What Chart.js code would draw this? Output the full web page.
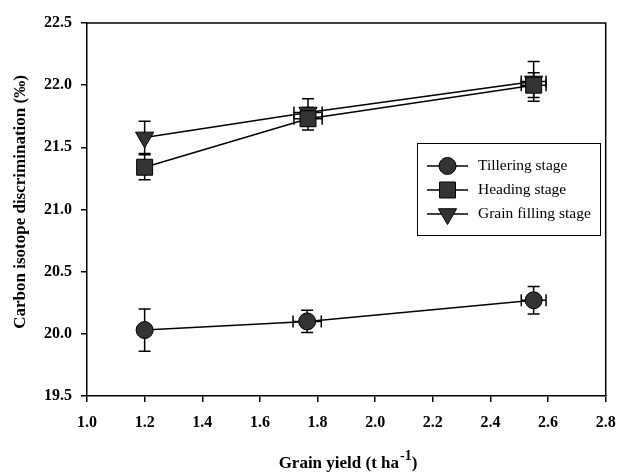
<!DOCTYPE html>
<html>
<head>
<meta charset="utf-8">
<script src="https://cdn.jsdelivr.net/npm/chart.js@4/dist/chart.umd.min.js"></script>
<style>
html,body{margin:0;padding:0;background:#fff;}
#wrap{width:618px;height:473px;position:relative;}
</style>
</head>
<body>
<div id="wrap"><canvas id="c" width="618" height="473"></canvas></div>
<script>
// ---- data ----
const seriesNames = ['Tillering stage', 'Heading stage', 'Grain filling stage'];
const tilleringX = [1.2, 1.764, 2.55];
const tilleringY = [20.03, 20.10, 20.27];
const tilleringYErr = [0.17, 0.09, 0.11];
const tilleringXErr = [0, 0.049, 0.043];
const headingX = [1.2, 1.767, 2.55];
const headingY = [21.34, 21.73, 22.00];
const headingYErr = [0.10, 0.09, 0.10];
const headingXErr = [0, 0.049, 0.043];
const grainX = [1.2, 1.767, 2.55];
const grainY = [21.58, 21.78, 22.03];
const grainYErr = [0.13, 0.11, 0.16];
const grainXErr = [0, 0.049, 0.043];
const xTickMin = 1.0, xTickMax = 2.8, xTickStep = 0.2;
const yTickMin = 19.5, yTickMax = 22.5, yTickStep = 0.5;
const xTitle = 'Grain yield (t ha';
const xTitleSup = '-1';
const xTitleEnd = ')';
const yTitle = 'Carbon isotope discrimination (‰)';

const FONT = '"Liberation Serif", "Times New Roman", serif';

function pts(xs, ys, ye, xe) {
  return xs.map((x, i) => ({x: x, y: ys[i], yErr: ye[i], xErr: xe[i]}));
}

const errorBars = {
  id: 'errorBars',
  beforeDatasetsDraw(chart) {
    const ctx = chart.ctx, xs = chart.scales.x, ys = chart.scales.y;
    ctx.save();
    ctx.strokeStyle = '#000';
    ctx.lineWidth = 1.5;
    const cap = 6;
    chart.data.datasets.forEach(ds => {
      ds.data.forEach(p => {
        const px = xs.getPixelForValue(p.x), py = ys.getPixelForValue(p.y);
        if (p.yErr) {
          const t = ys.getPixelForValue(p.y + p.yErr), b = ys.getPixelForValue(p.y - p.yErr);
          ctx.beginPath();
          ctx.moveTo(px, t); ctx.lineTo(px, b);
          ctx.moveTo(px - cap, t); ctx.lineTo(px + cap, t);
          ctx.moveTo(px - cap, b); ctx.lineTo(px + cap, b);
          ctx.stroke();
        }
        if (p.xErr) {
          const l = xs.getPixelForValue(p.x - p.xErr), r = xs.getPixelForValue(p.x + p.xErr);
          ctx.beginPath();
          ctx.moveTo(l, py); ctx.lineTo(r, py);
          ctx.moveTo(l, py - cap); ctx.lineTo(l, py + cap);
          ctx.moveTo(r, py - cap); ctx.lineTo(r, py + cap);
          ctx.stroke();
        }
      });
    });
    ctx.restore();
  }
};

const decor = {
  id: 'decor',
  afterDraw(chart) {
    const ctx = chart.ctx, a = chart.chartArea;
    ctx.save();
    // frame top/right
    ctx.strokeStyle = '#000';
    ctx.lineWidth = 1.5;
    ctx.beginPath();
    ctx.moveTo(a.left, a.top); ctx.lineTo(a.right, a.top); ctx.lineTo(a.right, a.bottom);
    ctx.stroke();
    // y title
    ctx.fillStyle = '#000';
    ctx.font = 'bold 17px ' + FONT;
    ctx.textAlign = 'center';
    ctx.textBaseline = 'middle';
    ctx.save();
    ctx.translate(21, 202);
    ctx.rotate(-Math.PI / 2);
    ctx.fillText(yTitle, 0, 0);
    ctx.restore();
    // x title with superscript
    ctx.textBaseline = 'alphabetic';
    ctx.textAlign = 'left';
    const mainFont = 'bold 17px ' + FONT, supFont = 'bold 14px ' + FONT;
    ctx.font = mainFont; const w1 = ctx.measureText(xTitle).width; const w3 = ctx.measureText(xTitleEnd).width;
    ctx.font = supFont; const w2 = ctx.measureText(xTitleSup).width;
    const total = w1 + w2 + w3 + 1;
    let x0 = 348 - total / 2;
    const base = 468;
    ctx.font = mainFont; ctx.fillText(xTitle, x0, base);
    ctx.font = supFont; ctx.fillText(xTitleSup, x0 + w1 + 1, base - 8);
    ctx.font = mainFont; ctx.fillText(xTitleEnd, x0 + w1 + w2 + 1, base);
    // legend
    const lx = 417, ly = 143, lw = 183, lh = 92;
    ctx.fillStyle = '#fff';
    ctx.fillRect(lx, ly, lw, lh);
    ctx.strokeStyle = '#000';
    ctx.lineWidth = 1;
    ctx.strokeRect(lx + 0.5, ly + 0.5, lw, lh);
    const rowY = [166, 190, 214];
    chart.data.datasets.forEach((ds, i) => {
      const y = rowY[i];
      ctx.strokeStyle = '#000';
      ctx.lineWidth = 1.5;
      ctx.beginPath(); ctx.moveTo(427, y); ctx.lineTo(468, y); ctx.stroke();
      ctx.fillStyle = ds.pointBackgroundColor;
      ctx.strokeStyle = ds.pointBorderColor;
      ctx.lineWidth = ds.pointBorderWidth;
      Chart.helpers.drawPoint(ctx, {pointStyle: ds.pointStyle, radius: ds.pointRadius, rotation: ds.pointRotation || 0, borderWidth: ds.pointBorderWidth}, 447.5, y);
      ctx.fillStyle = '#000';
      ctx.font = '15.5px ' + FONT;
      ctx.textBaseline = 'middle';
      ctx.textAlign = 'left';
      ctx.fillText(ds.label, 478, y);
    });
    ctx.restore();
  }
};

function ds(label, data, style, radius, rotation) {
  return {
    label: label, data: data,
    borderColor: '#000', borderWidth: 1.5,
    pointStyle: style, pointRadius: radius, pointHoverRadius: radius,
    pointRotation: rotation || 0,
    pointBackgroundColor: '#333333', pointBorderColor: '#000', pointBorderWidth: 1,
    showLine: true, tension: 0, fill: false
  };
}

new Chart(document.getElementById('c'), {
  type: 'scatter',
  data: {
    datasets: [
      ds(seriesNames[0], pts(tilleringX, tilleringY, tilleringYErr, tilleringXErr), 'circle', 8.5),
      ds(seriesNames[1], pts(headingX, headingY, headingYErr, headingXErr), 'rect', 11.3),
      ds(seriesNames[2], pts(grainX, grainY, grainYErr, grainXErr), 'triangle', 10.5, 180)
    ]
  },
  options: {
    responsive: false,
    animation: false,
    events: [],
    layout: {padding: {top: 23, right: 12, left: 0, bottom: 0}},
    plugins: {legend: {display: false}, tooltip: {enabled: false}},
    scales: {
      x: {
        type: 'linear', min: xTickMin, max: xTickMax,
        afterFit(s) { s.height = 77; s.paddingLeft = 0; s.paddingRight = 0; },
        border: {display: true, color: '#000', width: 1.5},
        grid: {drawOnChartArea: false, drawTicks: true, tickLength: 6, color: '#000', lineWidth: 1.5},
        ticks: {stepSize: xTickStep, padding: 11, color: '#000', font: {family: FONT, size: 16, weight: 'bold'},
          callback: v => Number(v).toFixed(1)}
      },
      y: {
        type: 'linear', min: yTickMin, max: yTickMax,
        afterFit(s) { s.width = 87; s.paddingTop = 0; s.paddingBottom = 0; },
        border: {display: true, color: '#000', width: 1.5},
        grid: {drawOnChartArea: false, drawTicks: true, tickLength: 6, color: '#000', lineWidth: 1.5},
        ticks: {stepSize: yTickStep, padding: 9, color: '#000', font: {family: FONT, size: 16, weight: 'bold'},
          callback: v => Number(v).toFixed(1)}
      }
    }
  },
  plugins: [errorBars, decor]
});
</script>
</body>
</html>
